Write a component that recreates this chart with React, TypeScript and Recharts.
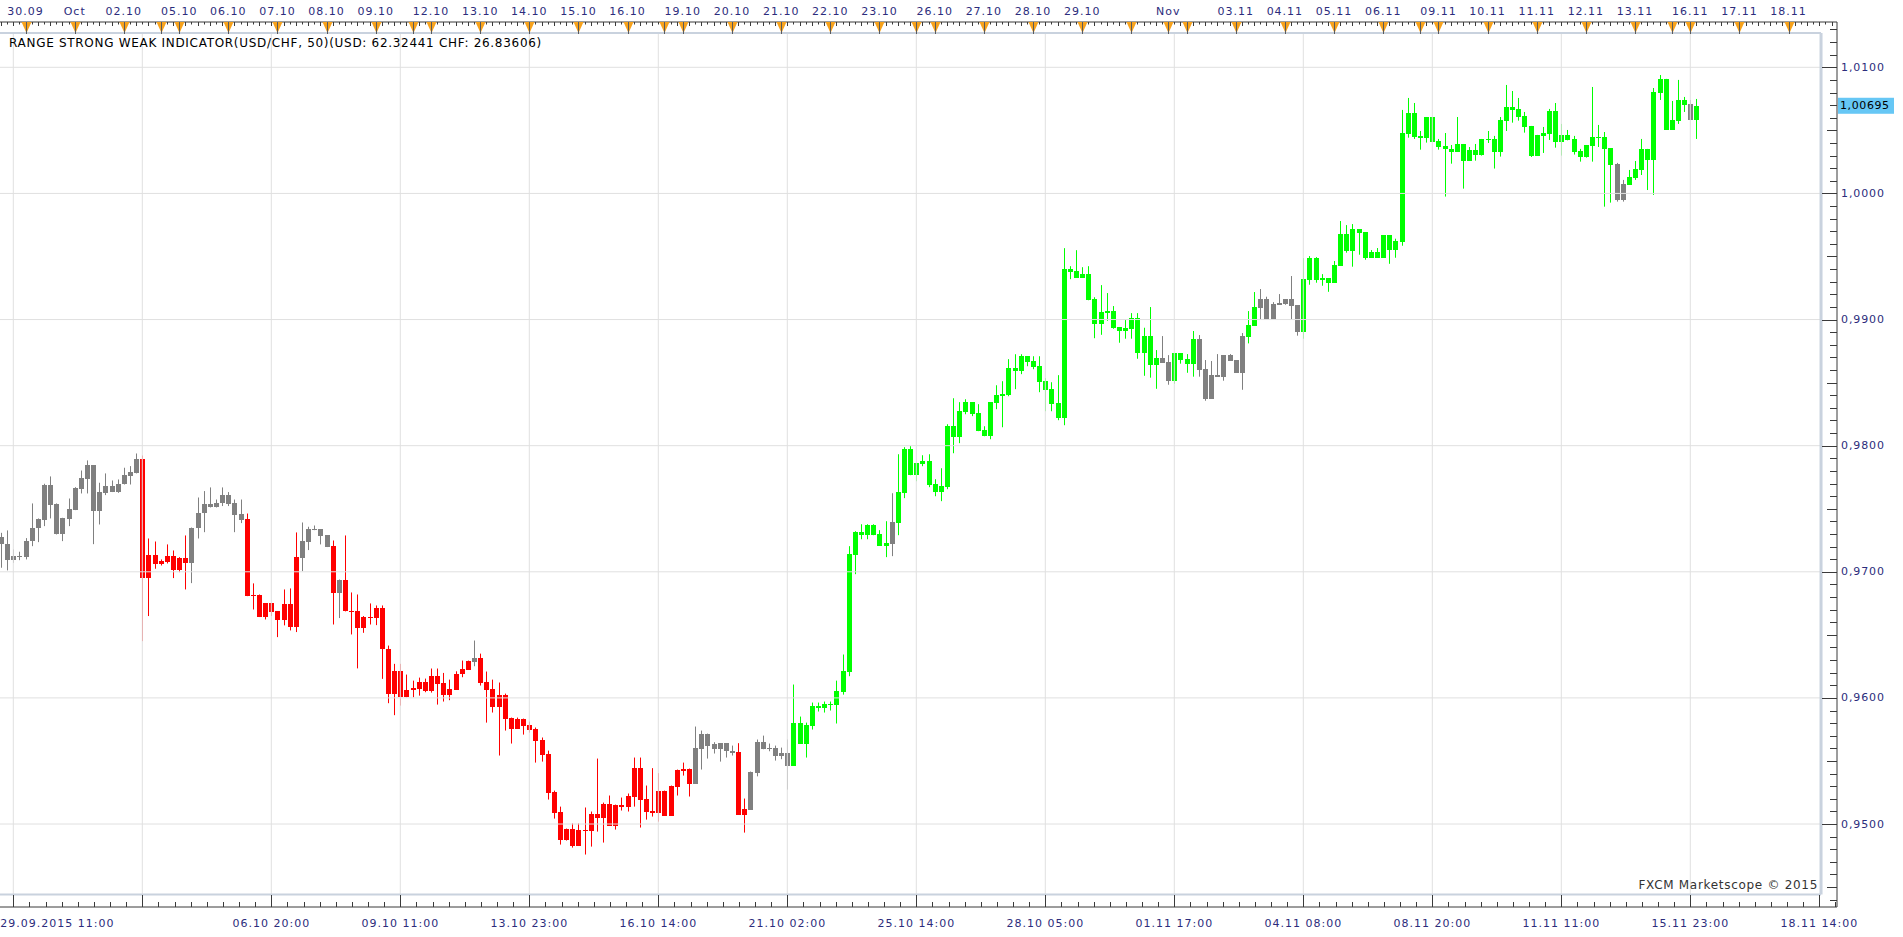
import React from 'react';
import { ComposedChart, Bar, XAxis, YAxis, ReferenceLine } from 'recharts';

// USD/CHF 3-hour candles, 29.09.2015 - 16.11.2015
const opens = [
  0.97272, 0.97222, 0.97092, 0.97122, 0.97116, 0.97243, 0.97346, 0.97410, 0.97692, 0.97534,
  0.97299, 0.97415, 0.97489, 0.97653, 0.97732, 0.97843, 0.97481, 0.97621, 0.97684, 0.97632,
  0.97695, 0.97758, 0.97780, 0.97891, 0.96950, 0.97137, 0.97061, 0.97077, 0.97129, 0.97013,
  0.97106, 0.97069, 0.97344, 0.97465, 0.97534, 0.97513, 0.97547, 0.97605, 0.97542, 0.97455,
  0.97415, 0.96807, 0.96812, 0.96641, 0.96749, 0.96686, 0.96617, 0.96741, 0.96561, 0.97108,
  0.97240, 0.97330, 0.97336, 0.97288, 0.97201, 0.96831, 0.96931, 0.96693, 0.96686, 0.96551,
  0.96638, 0.96630, 0.96709, 0.96391, 0.96029, 0.96217, 0.96005, 0.96061, 0.96074, 0.96129,
  0.96058, 0.96177, 0.96122, 0.96026, 0.96066, 0.96190, 0.96225, 0.96288, 0.96320, 0.96129,
  0.96074, 0.95931, 0.96026, 0.95844, 0.95757, 0.95836, 0.95789, 0.95757, 0.95670, 0.95559,
  0.95257, 0.95099, 0.94877, 0.94964, 0.94829, 0.94956, 0.94948, 0.95083, 0.95051, 0.95162,
  0.94988, 0.95154, 0.95138, 0.95218, 0.95448, 0.95202, 0.95107, 0.95091, 0.95265, 0.95067,
  0.95297, 0.95424, 0.95440, 0.95321, 0.95598, 0.95717, 0.95633, 0.95593, 0.95641, 0.95582,
  0.95575, 0.95075, 0.95115, 0.95408, 0.95654, 0.95593, 0.95600, 0.95543, 0.95567, 0.95464,
  0.95804, 0.95638, 0.95781, 0.95939, 0.95923, 0.95955, 0.95947, 0.96050, 0.96204, 0.97134,
  0.97314, 0.97290, 0.97369, 0.97298, 0.97206, 0.97219, 0.97385, 0.97623, 0.97972, 0.97766,
  0.97858, 0.97877, 0.97695, 0.97634, 0.97671, 0.98154, 0.98067, 0.98265, 0.98345, 0.98257,
  0.98123, 0.98075, 0.98337, 0.98392, 0.98400, 0.98614, 0.98590, 0.98709, 0.98670, 0.98630,
  0.98511, 0.98448, 0.98337, 0.98220, 0.99399, 0.99383, 0.99330, 0.99359, 0.99161, 0.98967,
  0.99054, 0.99067, 0.98940, 0.98911, 0.98927, 0.99012, 0.98737, 0.98869, 0.98642, 0.98695,
  0.98663, 0.98515, 0.98734, 0.98687, 0.98650, 0.98845, 0.98607, 0.98372, 0.98560, 0.98547,
  0.98718, 0.98679, 0.98578, 0.98864, 0.98951, 0.99094, 0.99162, 0.98998, 0.99117, 0.99125,
  0.99162, 0.99115, 0.98903, 0.99316, 0.99487, 0.99316, 0.99329, 0.99292, 0.99427, 0.99678,
  0.99545, 0.99717, 0.99693, 0.99490, 0.99535, 0.99490, 0.99670, 0.99553, 0.99617, 1.00474,
  1.00638, 1.00456, 1.00442, 1.00606, 1.00416, 1.00376, 1.00353, 1.00331, 1.00392, 1.00260,
  1.00345, 1.00305, 1.00432, 1.00432, 1.00331, 1.00575, 1.00686, 1.00670, 1.00614, 1.00535,
  1.00300, 1.00458, 1.00474, 1.00654, 1.00411, 1.00464, 1.00432, 1.00337, 1.00292, 1.00376,
  1.00448, 1.00448, 1.00360, 1.00234, 0.99948, 1.00067, 1.00123, 1.00186, 1.00353, 1.00265,
  1.00797, 1.00908, 1.00503, 1.00575, 1.00741, 1.00709, 1.00582,
];

const highs = [
  0.97309, 0.97328, 0.97177, 0.97159, 0.97267, 0.97542, 0.97423, 0.97698, 0.97756, 0.97542,
  0.97428, 0.97581, 0.97671, 0.97803, 0.97883, 0.97843, 0.97706, 0.97780, 0.97724, 0.97732,
  0.97825, 0.97838, 0.97938, 0.97922, 0.97264, 0.97240, 0.97098, 0.97217, 0.97169, 0.97116,
  0.97288, 0.97351, 0.97589, 0.97640, 0.97669, 0.97573, 0.97669, 0.97632, 0.97573, 0.97573,
  0.97462, 0.96908, 0.96820, 0.96749, 0.96749, 0.96686, 0.96860, 0.96868, 0.97312, 0.97391,
  0.97357, 0.97367, 0.97336, 0.97288, 0.97248, 0.96939, 0.97288, 0.96836, 0.96820, 0.96649,
  0.96749, 0.96733, 0.96733, 0.96415, 0.96270, 0.96270, 0.96185, 0.96137, 0.96161, 0.96153,
  0.96233, 0.96233, 0.96198, 0.96145, 0.96211, 0.96296, 0.96296, 0.96455, 0.96351, 0.96209,
  0.96145, 0.96122, 0.96034, 0.95844, 0.95844, 0.95836, 0.95812, 0.95765, 0.95686, 0.95582,
  0.95265, 0.95138, 0.94964, 0.95004, 0.95004, 0.95131, 0.95099, 0.95519, 0.95170, 0.95226,
  0.95154, 0.95210, 0.95242, 0.95527, 0.95527, 0.95305, 0.95443, 0.95403, 0.95265, 0.95305,
  0.95432, 0.95487, 0.95440, 0.95773, 0.95741, 0.95717, 0.95649, 0.95641, 0.95641, 0.95622,
  0.95641, 0.95202, 0.95416, 0.95670, 0.95701, 0.95638, 0.95622, 0.95606, 0.95670, 0.96106,
  0.95852, 0.95804, 0.95963, 0.95963, 0.95971, 0.95971, 0.96137, 0.96344, 0.97203, 0.97322,
  0.97377, 0.97377, 0.97377, 0.97330, 0.97401, 0.97623, 0.97932, 0.97988, 0.97996, 0.97861,
  0.97924, 0.97932, 0.97734, 0.97821, 0.98170, 0.98376, 0.98345, 0.98368, 0.98345, 0.98329,
  0.98154, 0.98345, 0.98479, 0.98511, 0.98686, 0.98725, 0.98725, 0.98709, 0.98709, 0.98709,
  0.98535, 0.98503, 0.98559, 0.99566, 0.99423, 0.99550, 0.99415, 0.99423, 0.99177, 0.99273,
  0.99210, 0.99107, 0.98940, 0.98996, 0.99051, 0.99051, 0.98935, 0.99099, 0.98758, 0.98869,
  0.98718, 0.98734, 0.98734, 0.98726, 0.98909, 0.98877, 0.98679, 0.98671, 0.98726, 0.98718,
  0.98726, 0.98679, 0.98893, 0.99067, 0.99218, 0.99242, 0.99181, 0.99138, 0.99202, 0.99162,
  0.99345, 0.99115, 0.99487, 0.99503, 0.99495, 0.99360, 0.99329, 0.99464, 0.99781, 0.99749,
  0.99757, 0.99717, 0.99693, 0.99551, 0.99567, 0.99670, 0.99670, 0.99641, 1.00662, 1.00757,
  1.00717, 1.00495, 1.00606, 1.00606, 1.00432, 1.00479, 1.00384, 1.00606, 1.00392, 1.00368,
  1.00392, 1.00432, 1.00495, 1.00456, 1.00606, 1.00860, 1.00812, 1.00757, 1.00646, 1.00535,
  1.00464, 1.00527, 1.00670, 1.00717, 1.00551, 1.00503, 1.00456, 1.00353, 1.00384, 1.00844,
  1.00543, 1.00487, 1.00360, 1.00242, 1.00107, 1.00186, 1.00257, 1.00432, 1.00353, 1.00836,
  1.00939, 1.00908, 1.00733, 1.00900, 1.00765, 1.00741, 1.00749,
];

const lows = [
  0.97032, 0.97011, 0.97071, 0.97092, 0.97098, 0.97203, 0.97235, 0.97362, 0.97423, 0.97296,
  0.97243, 0.97362, 0.97489, 0.97621, 0.97621, 0.97219, 0.97375, 0.97608, 0.97632, 0.97626,
  0.97692, 0.97692, 0.97780, 0.96450, 0.96649, 0.97024, 0.97050, 0.97066, 0.96950, 0.96997,
  0.96860, 0.96910, 0.97264, 0.97314, 0.97510, 0.97510, 0.97521, 0.97521, 0.97314, 0.97386,
  0.96807, 0.96701, 0.96641, 0.96622, 0.96649, 0.96482, 0.96575, 0.96535, 0.96522, 0.97005,
  0.97172, 0.97330, 0.97217, 0.97196, 0.96582, 0.96633, 0.96686, 0.96503, 0.96234, 0.96516,
  0.96582, 0.96577, 0.96151, 0.95958, 0.95863, 0.95939, 0.96005, 0.96005, 0.96018, 0.96045,
  0.96042, 0.95947, 0.95971, 0.95982, 0.96066, 0.96164, 0.96225, 0.96251, 0.96098, 0.95804,
  0.95884, 0.95543, 0.95741, 0.95638, 0.95757, 0.95709, 0.95725, 0.95487, 0.95495, 0.95194,
  0.95043, 0.94837, 0.94869, 0.94813, 0.94829, 0.94758, 0.94821, 0.94940, 0.94853, 0.94988,
  0.94956, 0.95107, 0.95099, 0.95138, 0.94972, 0.95035, 0.95059, 0.95019, 0.95067, 0.95067,
  0.95226, 0.95384, 0.95218, 0.95321, 0.95432, 0.95519, 0.95559, 0.95495, 0.95527, 0.95543,
  0.95075, 0.94932, 0.95115, 0.95378, 0.95593, 0.95577, 0.95503, 0.95514, 0.95273, 0.95464,
  0.95638, 0.95527, 0.95749, 0.95892, 0.95884, 0.95900, 0.95797, 0.96026, 0.96172, 0.96981,
  0.97258, 0.97258, 0.97290, 0.97206, 0.97116, 0.97124, 0.97290, 0.97584, 0.97766, 0.97718,
  0.97837, 0.97671, 0.97599, 0.97560, 0.97655, 0.97940, 0.98020, 0.98249, 0.98234, 0.98115,
  0.98075, 0.98051, 0.98289, 0.98146, 0.98392, 0.98448, 0.98567, 0.98630, 0.98606, 0.98424,
  0.98273, 0.98273, 0.98202, 0.98162, 0.99320, 0.99330, 0.99330, 0.99153, 0.98852, 0.98879,
  0.98990, 0.98927, 0.98816, 0.98848, 0.98848, 0.98689, 0.98554, 0.98539, 0.98451, 0.98658,
  0.98483, 0.98491, 0.98650, 0.98578, 0.98547, 0.98547, 0.98356, 0.98372, 0.98547, 0.98515,
  0.98673, 0.98578, 0.98443, 0.98811, 0.98951, 0.98998, 0.98998, 0.98998, 0.99117, 0.99117,
  0.98998, 0.98872, 0.98848, 0.99276, 0.99292, 0.99268, 0.99220, 0.99292, 0.99427, 0.99530,
  0.99419, 0.99514, 0.99474, 0.99490, 0.99490, 0.99490, 0.99442, 0.99490, 0.99585, 1.00442,
  1.00432, 1.00347, 1.00403, 1.00411, 1.00347, 0.99975, 1.00236, 1.00331, 1.00038, 1.00260,
  1.00260, 1.00300, 1.00400, 1.00197, 1.00292, 1.00495, 1.00561, 1.00577, 1.00482, 1.00289,
  1.00300, 1.00321, 1.00424, 1.00363, 1.00300, 1.00421, 1.00308, 1.00252, 1.00284, 1.00252,
  1.00368, 0.99895, 0.99927, 0.99935, 0.99935, 1.00067, 1.00107, 1.00146, 1.00027, 0.99988,
  1.00741, 1.00503, 1.00503, 1.00551, 1.00646, 1.00582, 1.00432,
];

const closes = [
  0.97219, 0.97092, 0.97122, 0.97116, 0.97248, 0.97349, 0.97415, 0.97692, 0.97529, 0.97299,
  0.97423, 0.97494, 0.97661, 0.97740, 0.97843, 0.97481, 0.97632, 0.97684, 0.97632, 0.97700,
  0.97764, 0.97790, 0.97891, 0.96950, 0.97137, 0.97058, 0.97082, 0.97129, 0.97013, 0.97108,
  0.97069, 0.97351, 0.97470, 0.97536, 0.97513, 0.97547, 0.97605, 0.97536, 0.97449, 0.97412,
  0.96807, 0.96812, 0.96641, 0.96749, 0.96680, 0.96617, 0.96741, 0.96561, 0.97114, 0.97248,
  0.97336, 0.97341, 0.97283, 0.97196, 0.96831, 0.96931, 0.96686, 0.96680, 0.96551, 0.96638,
  0.96630, 0.96709, 0.96387, 0.96029, 0.96217, 0.96005, 0.96066, 0.96082, 0.96129, 0.96058,
  0.96177, 0.96114, 0.96026, 0.96074, 0.96193, 0.96233, 0.96296, 0.96320, 0.96122, 0.96066,
  0.95931, 0.96026, 0.95836, 0.95757, 0.95836, 0.95781, 0.95749, 0.95662, 0.95551, 0.95249,
  0.95091, 0.94877, 0.94964, 0.94829, 0.94956, 0.94948, 0.95083, 0.95051, 0.95162, 0.94988,
  0.95154, 0.95138, 0.95226, 0.95448, 0.95194, 0.95099, 0.95091, 0.95265, 0.95067, 0.95305,
  0.95432, 0.95440, 0.95321, 0.95606, 0.95717, 0.95622, 0.95593, 0.95641, 0.95577, 0.95567,
  0.95075, 0.95123, 0.95416, 0.95654, 0.95593, 0.95600, 0.95543, 0.95567, 0.95464, 0.95804,
  0.95638, 0.95789, 0.95939, 0.95923, 0.95955, 0.95947, 0.96058, 0.96217, 0.97140, 0.97314,
  0.97290, 0.97369, 0.97290, 0.97206, 0.97227, 0.97393, 0.97631, 0.97972, 0.97766, 0.97861,
  0.97877, 0.97687, 0.97634, 0.97679, 0.98154, 0.98067, 0.98273, 0.98345, 0.98249, 0.98115,
  0.98075, 0.98345, 0.98400, 0.98408, 0.98614, 0.98590, 0.98709, 0.98662, 0.98622, 0.98503,
  0.98440, 0.98331, 0.98220, 0.99399, 0.99378, 0.99330, 0.99362, 0.99153, 0.98966, 0.99059,
  0.99067, 0.98935, 0.98909, 0.98932, 0.99012, 0.98737, 0.98869, 0.98642, 0.98695, 0.98658,
  0.98515, 0.98734, 0.98681, 0.98650, 0.98845, 0.98602, 0.98372, 0.98560, 0.98547, 0.98718,
  0.98673, 0.98578, 0.98869, 0.98956, 0.99099, 0.99162, 0.98998, 0.99123, 0.99131, 0.99162,
  0.99109, 0.98903, 0.99321, 0.99487, 0.99316, 0.99329, 0.99292, 0.99432, 0.99678, 0.99545,
  0.99717, 0.99688, 0.99490, 0.99535, 0.99490, 0.99670, 0.99553, 0.99625, 1.00479, 1.00638,
  1.00448, 1.00442, 1.00606, 1.00411, 1.00371, 1.00350, 1.00331, 1.00392, 1.00260, 1.00345,
  1.00308, 1.00432, 1.00424, 1.00331, 1.00582, 1.00686, 1.00664, 1.00609, 1.00530, 1.00297,
  1.00464, 1.00479, 1.00654, 1.00411, 1.00464, 1.00424, 1.00331, 1.00292, 1.00384, 1.00448,
  1.00442, 1.00353, 1.00226, 0.99948, 1.00075, 1.00131, 1.00194, 1.00353, 1.00265, 1.00804,
  1.00908, 1.00503, 1.00582, 1.00741, 1.00701, 1.00582, 1.00695,
];

// indicator state per candle: n = neutral, r = weak (red), g = strong (green)
const trend = [
  'nnnnnnnnnn', 'nnnnnnnnnn', 'nnnrrrrrrr', 'rnnnnnnnnn', 'rrrrrrrrrn',
  'nnnnrnrrrr', 'rrrrrrrrrr', 'rrrrrrrnrr', 'rrrrrrrrrr', 'rrrrrrrrrr',
  'rrrrrrrrrr', 'rrrnnnnnnn', 'rrnnnnnnng', 'gggggggggg', 'gggggngggg',
  'gggggggggg', 'gggggggggg', 'gggggggggg', 'gggggggggn', 'nggggnnnnn',
  'nnnggnnnnn', 'nngggggggg', 'gggggggggg', 'gggggggggg', 'gggggggggg',
  'gggggggggg', 'gggnnggggg', 'gggggng',
].join('');

// bottom axis: labelled grid candles
const gridIdx = [2, 23, 44, 65, 86, 107, 128, 149, 170, 191, 212, 233, 254, 275, 296];
const gridLabels = [
  '29.09.2015 11:00', '', '06.10 20:00', '09.10 11:00', '13.10 23:00', '16.10 14:00',
  '21.10 02:00', '25.10 14:00', '28.10 05:00', '01.11 17:00', '04.11 08:00',
  '08.11 20:00', '11.11 11:00', '15.11 23:00', '18.11 14:00',
];

// top axis: day separators
const dayIdx = [
  4, 12, 20, 26, 29, 37, 45, 53, 61, 67, 70, 78, 86, 94, 102, 108, 111, 119, 127, 135,
  143, 149, 152, 160, 168, 176, 184, 190, 193, 201, 209, 217, 225, 231, 234, 242, 250,
  258, 266, 272, 275, 283, 291,
];
const dayLabels = [
  '30.09', 'Oct', '02.10', '', '05.10', '06.10', '07.10', '08.10', '09.10', '', '12.10',
  '13.10', '14.10', '15.10', '16.10', '', '19.10', '20.10', '21.10', '22.10', '23.10', '',
  '26.10', '27.10', '28.10', '29.10', '', 'Nov', '', '03.11', '04.11', '05.11', '06.11', '',
  '09.11', '10.11', '11.11', '12.11', '13.11', '', '16.11', '17.11', '18.11',
];

const priceLevels = [0.95, 0.96, 0.97, 0.98, 0.99, 1.0, 1.01];

const W = 1903;
const H = 937;
const X_MIN = -0.165;
const X_MAX = 298.88;
const X_FRAME = 296.28;
const Y_MIN = 0.943421;
const Y_MAX = 1.013592;
const Y_FRAME_TOP = 1.01272;
const Y_FRAME_BOTTOM = 0.944412;
const FONT = "'DejaVu Sans', Verdana, sans-serif";
const AXIS_TEXT = '#2c2c7c';
const FRAME = '#c9d2de';
const GRID = '#e0e0e0';
const COLORS: Record<string, string> = { n: '#808080', r: '#ff0000', g: '#00ff00' };

const data = opens.map((o, i) => ({
  i,
  o,
  h: highs[i],
  l: lows[i],
  c: closes[i],
  t: trend[i],
  range: [lows[i], highs[i]],
}));

const lastClose = closes[closes.length - 1];

const bottomTicks: number[] = [];
for (let k = 0; k <= 113; k++) bottomTicks.push(2 + (k * 21) / 8);

const topTicks: number[] = [];
for (let k = 0; k <= 298; k++) topTicks.push(k);

const yTicks: number[] = [];
for (let m = 944; m <= 1013; m++) yTicks.push(m / 1000);
yTicks.push(lastClose);
yTicks.sort((a, b) => a - b);

const fmt = (v: number, d: number) => v.toFixed(d).replace('.', ',');

function Candle(props: any) {
  const { x, y, width, height, payload } = props;
  if (x == null || y == null || !payload) return null;
  const span = payload.h - payload.l;
  const k = span > 0 ? Math.abs(height) / span : 0;
  const top = y + (payload.h - Math.max(payload.o, payload.c)) * k;
  const bot = y + (payload.h - Math.min(payload.o, payload.c)) * k;
  const cx = Math.round(x + width / 2 - 0.5);
  const color = COLORS[payload.t];
  return (
    <g>
      <line x1={cx + 0.5} x2={cx + 0.5} y1={y} y2={y + Math.abs(height)} stroke={color} strokeWidth={1} />
      <rect x={cx - 2} y={top} width={5} height={Math.max(bot - top, 1)} fill={color} shapeRendering="crispEdges" />
    </g>
  );
}

function BottomTick(props: any) {
  const { x, y, index } = props;
  const major = index % 8 === 0;
  const label = major ? gridLabels[index / 8] : '';
  const first = index === 0;
  const px = Math.round(x) + 0.5;
  return (
    <g>
      <line x1={px} x2={px} y1={y - (major ? 12 : 5)} y2={y} stroke="#3a3a3a" strokeWidth={1} />
      {label ? (
        <text
          x={first ? x - 13 : x}
          y={y + 16.5}
          textAnchor={first ? 'start' : 'middle'}
          dominantBaseline="central"
          fontFamily={FONT}
          fontSize={11}
          letterSpacing={1}
          fill={AXIS_TEXT}
        >
          {label}
        </text>
      ) : null}
    </g>
  );
}

function TopTick(props: any) {
  const { x, y, payload } = props;
  const v = payload.value;
  const px = Math.round(x) + 0.5;
  const d = dayIdx.indexOf(v);
  if (d >= 0) {
    const label = dayLabels[d];
    return (
      <g>
        <path d={`M${px - 5},${y} L${px + 5},${y} L${px},${y + 11} Z`} fill="#f7a21c" />
        <line x1={px} x2={px} y1={y} y2={y + 12} stroke="#5a5a5a" strokeWidth={1} />
        {label ? (
          <text
            x={x}
            y={y - 11}
            textAnchor="middle"
            dominantBaseline="central"
            fontFamily={FONT}
            fontSize={11}
            letterSpacing={1}
            fill={AXIS_TEXT}
          >
            {label}
          </text>
        ) : null}
      </g>
    );
  }
  return <line x1={px} x2={px} y1={y} y2={y + (v % 2 === 0 ? 4 : 2.5)} stroke="#3a3a3a" strokeWidth={1} />;
}

function PriceTick(props: any) {
  const { x, y, payload } = props;
  const v = payload.value;
  if (v === lastClose) {
    return (
      <g>
        <rect x={x + 1} y={y - 8} width={56} height={16} fill="#66c7f5" />
        <text x={x + 3} y={y} dominantBaseline="central" fontFamily={FONT} fontSize={11} letterSpacing={0.6} fill="#000">
          {fmt(v, 5)}
        </text>
      </g>
    );
  }
  const m = Math.round(v * 1000);
  const major = m % 10 === 0;
  const len = major ? 15 : m % 5 === 0 ? 10 : 7;
  const py = Math.round(y) + 0.5;
  return (
    <g>
      <line x1={x - len} x2={x} y1={py} y2={py} stroke="#3a3a3a" strokeWidth={1} />
      {major ? (
        <text x={x + 4} y={y} dominantBaseline="central" fontFamily={FONT} fontSize={11} letterSpacing={0.9} fill={AXIS_TEXT}>
          {fmt(v, 4)}
        </text>
      ) : null}
    </g>
  );
}

export default function App() {
  return (
    <div style={{ position: 'relative', width: W, height: H, background: '#fff', overflow: 'hidden' }}>
      <style>{'body{margin:0;background:#fff}'}</style>
      <ComposedChart width={W} height={H} data={data} margin={{ top: 0, right: 0, bottom: 0, left: 0 }}>
        <XAxis
          xAxisId="b"
          dataKey="i"
          type="number"
          scale="linear"
          domain={[X_MIN, X_MAX]}
          allowDataOverflow
          ticks={bottomTicks}
          interval={0}
          height={30}
          tickSize={0}
          tickMargin={0}
          tickLine={false}
          axisLine={{ stroke: '#3a3a3a' }}
          tick={(p: any) => <BottomTick {...p} />}
        />
        <XAxis
          xAxisId="t"
          dataKey="i"
          orientation="top"
          type="number"
          scale="linear"
          domain={[X_MIN, X_MAX]}
          allowDataOverflow
          ticks={topTicks}
          interval={0}
          height={22}
          tickSize={0}
          tickMargin={0}
          tickLine={false}
          axisLine={{ stroke: '#3a3a3a' }}
          tick={(p: any) => <TopTick {...p} />}
        />
        <YAxis
          yAxisId="p"
          orientation="right"
          type="number"
          domain={[Y_MIN, Y_MAX]}
          allowDataOverflow
          ticks={yTicks}
          interval={0}
          width={66}
          tickSize={0}
          tickMargin={0}
          tickLine={false}
          axisLine={{ stroke: '#3a3a3a' }}
          tick={(p: any) => <PriceTick {...p} />}
        />
        {priceLevels.map((v) => (
          <ReferenceLine
            key={`h${v}`}
            xAxisId="b"
            yAxisId="p"
            segment={[{ x: X_MIN, y: v }, { x: X_FRAME, y: v }]}
            stroke={GRID}
            strokeWidth={1}
          />
        ))}
        {gridIdx.slice(0, 14).map((g) => (
          <ReferenceLine
            key={`v${g}`}
            xAxisId="b"
            yAxisId="p"
            segment={[{ x: g, y: Y_FRAME_BOTTOM }, { x: g, y: Y_FRAME_TOP }]}
            stroke={GRID}
            strokeWidth={1}
          />
        ))}
        <ReferenceLine xAxisId="b" yAxisId="p" segment={[{ x: X_MIN, y: Y_FRAME_TOP }, { x: X_FRAME, y: Y_FRAME_TOP }]} stroke={FRAME} strokeWidth={2} />
        <ReferenceLine xAxisId="b" yAxisId="p" segment={[{ x: X_MIN, y: Y_FRAME_BOTTOM }, { x: X_FRAME, y: Y_FRAME_BOTTOM }]} stroke={FRAME} strokeWidth={2} />
        <ReferenceLine xAxisId="b" yAxisId="p" segment={[{ x: X_FRAME, y: Y_FRAME_BOTTOM }, { x: X_FRAME, y: Y_FRAME_TOP }]} stroke={FRAME} strokeWidth={3} />
        <Bar
          xAxisId="b"
          yAxisId="p"
          dataKey="range"
          barSize={5}
          shape={(p: any) => <Candle {...p} />}
          isAnimationActive={false}
        />
      </ComposedChart>
      <div
        style={{
          position: 'absolute',
          left: 9,
          top: 36,
          fontFamily: FONT,
          fontSize: 12,
          letterSpacing: 0.7,
          lineHeight: '15px',
          color: '#000',
          whiteSpace: 'nowrap',
        }}
      >
        RANGE STRONG WEAK INDICATOR(USD/CHF, 50)(USD: 62.32441 CHF: 26.83606)
      </div>
      <div
        style={{
          position: 'absolute',
          right: W - 1818,
          top: 878,
          fontFamily: FONT,
          fontSize: 12,
          letterSpacing: 0.7,
          lineHeight: '15px',
          color: '#333',
          whiteSpace: 'nowrap',
        }}
      >
        FXCM Marketscope © 2015
      </div>
    </div>
  );
}
